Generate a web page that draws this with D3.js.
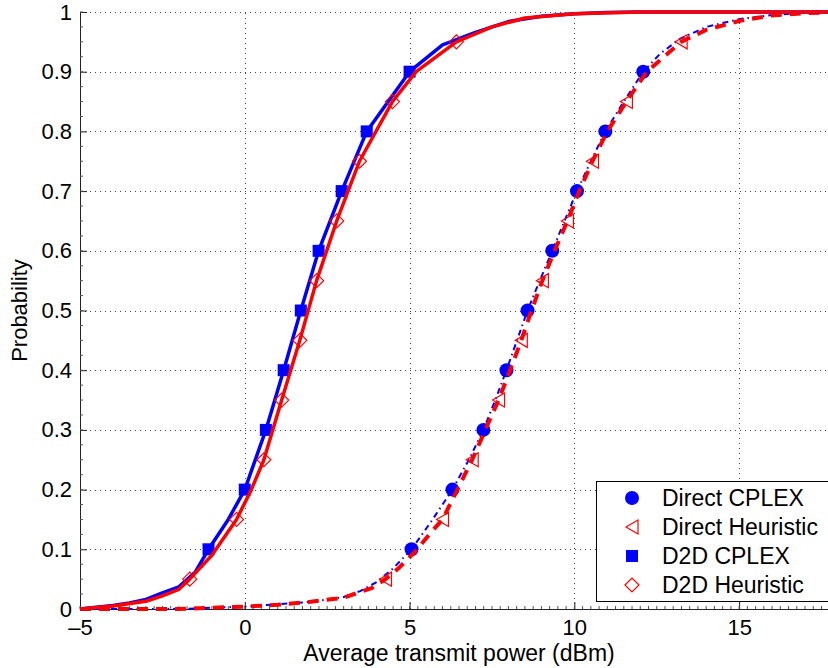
<!DOCTYPE html>
<html>
<head>
<meta charset="utf-8">
<script src="https://cdn.jsdelivr.net/npm/d3@7"></script>
<style>
  body { margin: 0; background: #fff; }
  svg { display: block; font-family: "Liberation Sans", Arial, sans-serif; }
</style>
</head>
<body>
<script>
const directCplexX = [-5, -2, 0, 1, 2, 3, 3.5, 4, 4.5, 5.06, 5.7, 6.3, 6.8, 7.24, 7.6, 7.94, 8.26, 8.58, 8.95, 9.33, 9.7, 10.08, 10.5, 10.94, 11.5, 12.09, 12.6, 13.2, 14, 15, 16, 17, 18];
const directCplexP = [0, 0, 0.004, 0.008, 0.012, 0.02, 0.03, 0.045, 0.068, 0.1, 0.15, 0.2, 0.25, 0.3, 0.35, 0.4, 0.45, 0.5, 0.55, 0.6, 0.65, 0.7, 0.75, 0.8, 0.85, 0.9, 0.93, 0.955, 0.975, 0.988, 0.995, 0.999, 1];

const directHeurX = [-5, -2, 0, 1, 2, 3, 3.85, 4.27, 4.7, 5.15, 5.6, 6.0, 6.45, 6.9, 7.3, 7.7, 8.05, 8.39, 8.7, 9.03, 9.4, 9.79, 10.15, 10.55, 11.0, 11.58, 12.2, 13.24, 14, 15, 16, 17, 18];
const directHeurP = [0, 0, 0.004, 0.007, 0.012, 0.019, 0.035, 0.05, 0.07, 0.095, 0.125, 0.15, 0.2, 0.25, 0.3, 0.35, 0.4, 0.45, 0.5, 0.55, 0.6, 0.65, 0.7, 0.75, 0.8, 0.85, 0.9, 0.95, 0.97, 0.985, 0.994, 0.998, 1];

const d2dCplexX = [-5, -4.5, -4, -3.5, -3, -2.5, -2, -1.5, -1.1, -0.5, 0, 0.64, 1.18, 1.7, 2.24, 2.94, 3.7, 5.0, 6, 7, 8, 9, 10, 11, 12, 18];
const d2dCplexP = [0, 0.003, 0.006, 0.01, 0.016, 0.027, 0.037, 0.062, 0.1, 0.15, 0.2, 0.3, 0.4, 0.5, 0.6, 0.7, 0.8, 0.9, 0.945, 0.966, 0.984, 0.993, 0.997, 0.999, 1, 1];

const d2dHeurX = [-5, -4, -3, -2.5, -2, -1.67, -1, -0.25, 0.2, 0.58, 1.12, 1.67, 2.18, 2.79, 3.48, 4.48, 5.2, 6.42, 7.5, 8.5, 10, 12, 18];
const d2dHeurP = [0, 0.005, 0.013, 0.022, 0.033, 0.05, 0.09, 0.15, 0.2, 0.25, 0.35, 0.45, 0.55, 0.65, 0.75, 0.85, 0.9, 0.95, 0.975, 0.99, 0.997, 1, 1];

// Marker positions
const directCplexMarkX = [5.06, 6.3, 7.24, 7.94, 8.58, 9.33, 10.08, 10.94, 12.09];
const directCplexMarkP = [0.1, 0.2, 0.3, 0.4, 0.5, 0.6, 0.7, 0.8, 0.9];
const directHeurMarkX = [4.27, 6.0, 6.9, 7.7, 8.39, 9.03, 9.79, 10.55, 11.58, 13.24];
const directHeurMarkP = [0.05, 0.15, 0.25, 0.35, 0.45, 0.55, 0.65, 0.75, 0.85, 0.95];
const d2dCplexMarkX = [-1.1, 0.0, 0.64, 1.18, 1.7, 2.24, 2.94, 3.7, 5.0];
const d2dCplexMarkP = [0.1, 0.2, 0.3, 0.4, 0.5, 0.6, 0.7, 0.8, 0.9];
const d2dHeurMarkX = [-1.67, -0.25, 0.58, 1.12, 1.67, 2.18, 2.79, 3.48, 4.48, 6.42];
const d2dHeurMarkP = [0.05, 0.15, 0.25, 0.35, 0.45, 0.55, 0.65, 0.75, 0.85, 0.95];

const legendNames = ["Direct CPLEX", "Direct Heuristic", "D2D CPLEX", "D2D Heuristic"];
const xTicks = [-5, 0, 5, 10, 15];
const yTicks = [0, 0.1, 0.2, 0.3, 0.4, 0.5, 0.6, 0.7, 0.8, 0.9, 1];

const width = 828, height = 668;
const margin = {top: 12, left: 80, bottom: 59};
const plotRight = 838; // axes run past the right edge of the picture

const x = d3.scaleLinear([-5, 18], [margin.left, plotRight]);
const y = d3.scaleLinear([0, 1], [height - margin.bottom, margin.top]);

const svg = d3.select("body").append("svg")
    .attr("width", width)
    .attr("height", height)
    .style("overflow", "hidden");

// grid
const grid = svg.append("g")
    .attr("stroke", "#444")
    .attr("stroke-width", 1)
    .attr("stroke-dasharray", "1,4");
grid.selectAll(".gy")
    .data(yTicks.filter(d => d > 0))
    .join("line")
    .attr("x1", x(-5)).attr("x2", plotRight)
    .attr("y1", d => Math.round(y(d)) + 0.5).attr("y2", d => Math.round(y(d)) + 0.5);
grid.selectAll(".gx")
    .data(xTicks.filter(d => d > -5))
    .join("line")
    .attr("y1", y(0)).attr("y2", y(1))
    .attr("x1", d => Math.round(x(d)) + 0.5).attr("x2", d => Math.round(x(d)) + 0.5);

// axes
const xAxis = d3.axisBottom(x)
    .tickValues(xTicks)
    .tickSizeInner(-7)
    .tickSizeOuter(0)
    .tickFormat(d => d < 0 ? "\u2013" + Math.abs(d) : d);
const yAxis = d3.axisLeft(y)
    .tickValues(yTicks)
    .tickSizeInner(-7)
    .tickSizeOuter(0)
    .tickPadding(8)
    .tickFormat(d => d === 0 || d === 1 ? d : d3.format(".1f")(d));

const gx = svg.append("g")
    .attr("transform", `translate(0,${y(0)})`)
    .call(xAxis);
const gy = svg.append("g")
    .attr("transform", `translate(${x(-5)},0)`)
    .call(yAxis);

for (const g of [gx, gy]) {
    g.select(".domain").attr("stroke", "#222");
    g.selectAll(".tick line").attr("stroke", "#222");
    g.selectAll(".tick text")
        .attr("fill", "#000")
        .style("font-size", "22px")
        .style("font-family", "'Liberation Sans', Arial, sans-serif");
}
// baseline of x tick labels at about y = 635
gx.selectAll(".tick text").attr("y", 26).attr("dy", 0);

// minor ticks
svg.append("g")
    .attr("stroke", "#555")
    .selectAll("line")
    .data(d3.range(0, 1.0001, 0.025))
    .join("line")
    .attr("x1", x(-5)).attr("x2", x(-5) + 3)
    .attr("y1", d => y(d)).attr("y2", d => y(d));
svg.append("g")
    .attr("stroke", "#555")
    .selectAll("line")
    .data(d3.range(-5, 18.001, 0.25))
    .join("line")
    .attr("y1", y(0)).attr("y2", y(0) - 3)
    .attr("x1", d => x(d)).attr("x2", d => x(d));

// axis titles
svg.append("text")
    .attr("x", (x(-5) + plotRight) / 2)
    .attr("y", 661)
    .attr("text-anchor", "middle")
    .style("font-size", "23px")
    .text("Average transmit power (dBm)");
svg.append("text")
    .attr("transform", `translate(27,${(y(0) + y(1)) / 2}) rotate(-90)`)
    .attr("text-anchor", "middle")
    .style("font-size", "22px")
    .text("Probability");

// curves
const line = d3.line().x(d => x(d[0])).y(d => y(d[1]));
const zip = (a, b) => a.map((v, i) => [v, b[i]]);

const plot = svg.append("g");

function curve(xs, ps, color, w, dash) {
    plot.append("path")
        .datum(zip(xs, ps))
        .attr("fill", "none")
        .attr("stroke", color)
        .attr("stroke-width", w)
        .attr("stroke-linejoin", "round")
        .attr("stroke-dasharray", dash)
        .attr("d", line);
}

const shapes = {
    circle: (g) => g.append("circle").attr("r", 7).attr("fill", "#0000ff"),
    square: (g) => g.append("rect").attr("x", -6).attr("y", -6).attr("width", 12).attr("height", 12).attr("fill", "#0000ff"),
    triangle: (g) => g.append("path").attr("d", "M-6,0L6,-7L6,7Z").attr("fill", "none").attr("stroke", "#ff0000").attr("stroke-width", 1.2),
    diamond: (g) => g.append("path").attr("d", "M-7,0L0,-7L7,0L0,7Z").attr("fill", "none").attr("stroke", "#ff0000").attr("stroke-width", 1.2)
};

function markers(xs, ps, shape) {
    plot.append("g")
        .selectAll("g")
        .data(zip(xs, ps))
        .join("g")
        .attr("transform", d => `translate(${x(d[0])},${y(d[1])})`)
        .each(function() { shapes[shape](d3.select(this)); });
}

curve(directCplexX, directCplexP, "#0000ff", 2, "6,4,1.5,4");
markers(directCplexMarkX, directCplexMarkP, "circle");
curve(directHeurX, directHeurP, "#ff0000", 4, "11,8");
markers(directHeurMarkX, directHeurMarkP, "triangle");
curve(d2dCplexX, d2dCplexP, "#0000ff", 3.5, null);
markers(d2dCplexMarkX, d2dCplexMarkP, "square");
curve(d2dHeurX, d2dHeurP, "#ff0000", 3.5, null);
markers(d2dHeurMarkX, d2dHeurMarkP, "diamond");

// legend
const legend = svg.append("g");
legend.append("rect")
    .attr("x", 596.5).attr("y", 481.5)
    .attr("width", 240).attr("height", 120)
    .attr("fill", "#fff")
    .attr("stroke", "#000");
const legendShapes = ["circle", "triangle", "square", "diamond"];
legendNames.forEach((name, i) => {
    const cy = 498 + i * 29;
    const g = legend.append("g").attr("transform", `translate(632,${cy})`);
    shapes[legendShapes[i]](g);
    legend.append("text")
        .attr("x", 662)
        .attr("y", cy)
        .attr("dy", "0.36em")
        .style("font-size", "23px")
        .text(name);
});
</script>
</body>
</html>
